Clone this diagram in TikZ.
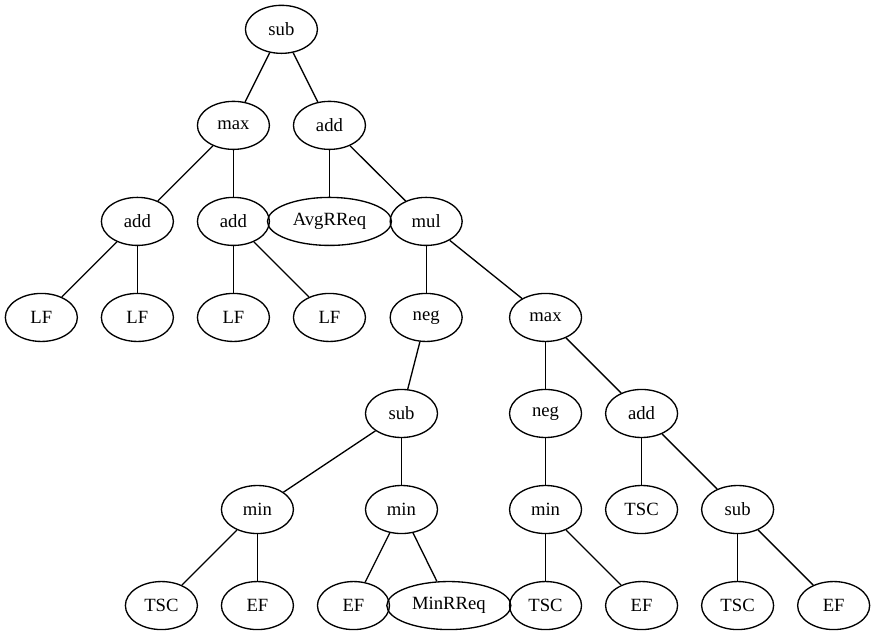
\documentclass[tikz,border=0pt]{standalone}
\usepackage{fontspec}
\setmainfont{Liberation Serif}
\usetikzlibrary{shapes.geometric}
\begin{document}
\begin{tikzpicture}[x=1pt,y=1pt,
  tn/.style={ellipse,draw,line width=1pt,inner sep=0pt,minimum width=54pt,minimum height=36pt,font=\fontsize{14pt}{16pt}\selectfont},
  wide/.style={tn,minimum width=93pt},
  ed/.style={line width=1pt}]
\useasboundingbox (0,0) rectangle (656,476);
% level 0
\node[tn] (r) at (211,454) {sub};
% level 1
\node[tn] (max1) at (175,382) {max};
\node[tn] (add1) at (247,382) {add};
% level 2
\node[tn] (add2) at (103,310) {add};
\node[tn] (add3) at (175,310) {add};
\node[wide] (avg) at (247,310) {AvgRReq};
\node[tn] (mul) at (319.5,310) {mul};
% level 3
\node[tn] (lf1) at (31,238) {LF};
\node[tn] (lf2) at (103,238) {LF};
\node[tn] (lf3) at (175,238) {LF};
\node[tn] (lf4) at (247,238) {LF};
\node[tn] (neg1) at (319.5,238) {neg};
\node[tn] (max2) at (409,238) {max};
% level 4
\node[tn] (sub2) at (301,166) {sub};
\node[tn] (neg2) at (409,166) {neg};
\node[tn] (add4) at (481,166) {add};
% level 5
\node[tn] (min1) at (193,94) {min};
\node[tn] (min2) at (301,94) {min};
\node[tn] (min3) at (409,94) {min};
\node[tn] (tsc1) at (481,94) {TSC};
\node[tn] (sub3) at (553,94) {sub};
% level 6
\node[tn] (tsc2) at (121,22) {TSC};
\node[tn] (ef1) at (193,22) {EF};
\node[tn] (ef2) at (265,22) {EF};
\node[wide] (minr) at (336.5,22) {MinRReq};
\node[tn] (tsc3) at (409,22) {TSC};
\node[tn] (ef3) at (481,22) {EF};
\node[tn] (tsc4) at (553,22) {TSC};
\node[tn] (ef4) at (625,22) {EF};
% edges
\draw[ed] (r) -- (max1);
\draw[ed] (r) -- (add1);
\draw[ed] (max1) -- (add2);
\draw[ed] (max1) -- (add3);
\draw[ed] (add1) -- (avg);
\draw[ed] (add1) -- (mul);
\draw[ed] (add2) -- (lf1);
\draw[ed] (add2) -- (lf2);
\draw[ed] (add3) -- (lf3);
\draw[ed] (add3) -- (lf4);
\draw[ed] (mul) -- (neg1);
\draw[ed] (mul) -- (max2);
\draw[ed] (neg1) -- (sub2);
\draw[ed] (max2) -- (neg2);
\draw[ed] (max2) -- (add4);
\draw[ed] (sub2) -- (min1);
\draw[ed] (sub2) -- (min2);
\draw[ed] (neg2) -- (min3);
\draw[ed] (add4) -- (tsc1);
\draw[ed] (add4) -- (sub3);
\draw[ed] (min1) -- (tsc2);
\draw[ed] (min1) -- (ef1);
\draw[ed] (min2) -- (ef2);
\draw[ed] (min2) -- (minr);
\draw[ed] (min3) -- (tsc3);
\draw[ed] (min3) -- (ef3);
\draw[ed] (sub3) -- (tsc4);
\draw[ed] (sub3) -- (ef4);
\end{tikzpicture}
\end{document}
